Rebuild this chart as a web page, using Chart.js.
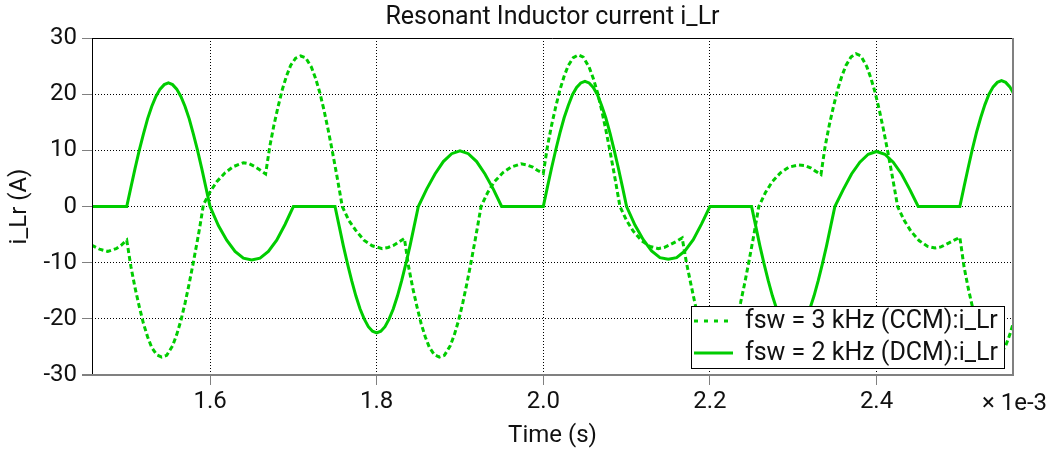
<!DOCTYPE html>
<html>

<head>
  <script src="https://cdn.jsdelivr.net/npm/chart.js@4.4.0/dist/chart.umd.min.js"></script>
  <style>
    body { margin: 0; background: #fff; }
  </style>
</head>

<body>
  <div id="chart" style="position:relative; width:1050px; height:449px"></div>
  <script>
    var chartTitle = 'Resonant Inductor current i_Lr';
    var xTitle = 'Time (s)';
    var yTitle = 'i_Lr (A)';
    var xExponent = '\u00d7 1e-3';
    var xTicks = [1.6, 1.8, 2.0, 2.2, 2.4];
    var yTicks = [-30, -20, -10, 0, 10, 20, 30];
    var xMin = 1.4583, xMax = 2.5638;

    var ccmLabel = 'fsw = 3 kHz (CCM):i_Lr';
    var dcmLabel = 'fsw = 2 kHz (DCM):i_Lr';

    // time in ms, current in A
    var ccmTime = [
      1.4500, 1.4583, 1.4673, 1.4773, 1.4873, 1.4933,
      1.5000, 1.5050, 1.5100, 1.5150, 1.5200, 1.5250, 1.5300, 1.5360, 1.5420, 1.5480, 1.5550, 1.5600, 1.5650, 1.5700,
      1.5750, 1.5800, 1.5850, 1.5880, 1.5920, 1.6000, 1.6080, 1.6180, 1.6280, 1.6400, 1.6470, 1.6540, 1.6600,
      1.6667, 1.6717, 1.6767, 1.6817, 1.6867, 1.6917, 1.6967, 1.7027, 1.7087, 1.7147, 1.7217, 1.7267, 1.7317, 1.7367,
      1.7417, 1.7467, 1.7517, 1.7547, 1.7587, 1.7667, 1.7747, 1.7847, 1.7947, 1.8067, 1.8137, 1.8207, 1.8267,
      1.8333, 1.8383, 1.8433, 1.8483, 1.8533, 1.8583, 1.8633, 1.8693, 1.8753, 1.8813, 1.8883, 1.8933, 1.8983, 1.9033,
      1.9083, 1.9133, 1.9183, 1.9213, 1.9253, 1.9333, 1.9413, 1.9513, 1.9613, 1.9733, 1.9803, 1.9873, 1.9933,
      2.0000, 2.0050, 2.0100, 2.0150, 2.0200, 2.0250, 2.0300, 2.0360, 2.0420, 2.0480, 2.0550, 2.0600, 2.0650, 2.0700,
      2.0750, 2.0800, 2.0850, 2.0880, 2.0920, 2.1000, 2.1080, 2.1180, 2.1280, 2.1380, 2.1450, 2.1520, 2.1600,
      2.1667, 2.1717, 2.1767, 2.1817, 2.1867, 2.1917, 2.1967, 2.2027, 2.2087, 2.2147, 2.2217, 2.2267, 2.2317, 2.2367,
      2.2417, 2.2467, 2.2517, 2.2547, 2.2587, 2.2667, 2.2747, 2.2847, 2.2947, 2.3067, 2.3137, 2.3207, 2.3267,
      2.3333, 2.3383, 2.3433, 2.3483, 2.3533, 2.3583, 2.3633, 2.3693, 2.3753, 2.3813, 2.3883, 2.3933, 2.3983, 2.4033,
      2.4083, 2.4133, 2.4183, 2.4213, 2.4253, 2.4333, 2.4413, 2.4513, 2.4613, 2.4703, 2.4773, 2.4853, 2.4933,
      2.5000, 2.5050, 2.5100, 2.5150, 2.5200, 2.5250, 2.5300, 2.5360, 2.5420, 2.5480, 2.5550, 2.5600, 2.5650, 2.5700
    ];
    var ccmCurrent = [
      -6.0, -6.9, -7.6, -8.0, -7.5, -6.9,
      -6.0, -10.7, -14.5, -17.8, -20.8, -23.2, -25.1, -26.4, -26.8, -26.5, -24.8, -22.8, -20.3, -17.2,
      -13.7, -9.9, -5.9, -3.4, 0.3, 2.6, 4.4, 6.0, 7.1, 7.8, 7.6, 7.1, 6.5,
      5.8, 10.7, 14.5, 17.8, 20.8, 23.2, 25.1, 26.4, 26.8, 26.5, 24.8, 22.8, 20.3, 17.2,
      13.7, 9.9, 5.9, 3.4, 0.0, -2.5, -4.2, -6.0, -7.0, -7.5, -7.3, -6.9, -6.3,
      -5.7, -10.7, -14.5, -17.8, -20.8, -23.2, -25.1, -26.4, -26.8, -26.5, -24.8, -22.8, -20.3, -17.2,
      -13.7, -9.9, -5.9, -3.4, 0.0, 2.5, 4.4, 6.0, 7.0, 7.6, 7.4, 7.0, 6.4,
      5.9, 10.7, 14.5, 17.8, 20.8, 23.2, 25.1, 26.5, 27.0, 26.6, 24.8, 22.8, 20.3, 17.2,
      13.7, 9.9, 5.9, 3.4, 0.0, -2.5, -4.4, -6.1, -7.1, -7.5, -7.3, -6.8, -6.2,
      -5.6, -9.9, -13.5, -17.0, -20.3, -23.0, -25.0, -26.4, -26.9, -26.5, -24.8, -22.8, -20.3, -17.2,
      -13.7, -9.9, -5.9, -3.4, 0.0, 2.5, 4.4, 6.0, 7.0, 7.4, 7.3, 6.9, 6.3,
      5.7, 10.7, 14.5, 17.8, 20.8, 23.2, 25.1, 26.6, 27.2, 26.8, 24.9, 22.8, 20.3, 17.2,
      13.7, 9.9, 5.9, 3.4, 0.0, -2.5, -4.4, -6.1, -7.1, -7.4, -7.2, -6.6, -6.0,
      -5.5, -10.7, -14.5, -17.8, -20.8, -23.2, -25.1, -26.4, -26.9, -26.5, -24.8, -22.8, -20.3, -17.2
    ];

    var dcmTime = [
      1.450, 1.500, 1.505, 1.510, 1.515, 1.520, 1.525, 1.530, 1.535, 1.540, 1.545,
      1.550, 1.555, 1.560, 1.565, 1.570, 1.575, 1.580, 1.585, 1.590, 1.595,
      1.600, 1.610, 1.620, 1.630, 1.640, 1.650, 1.660, 1.670, 1.680, 1.690,
      1.700, 1.750, 1.755, 1.760, 1.765, 1.770, 1.775, 1.780, 1.785, 1.790, 1.795,
      1.800, 1.805, 1.810, 1.815, 1.820, 1.825, 1.830, 1.835, 1.840, 1.845,
      1.850, 1.860, 1.870, 1.880, 1.890, 1.900, 1.910, 1.920, 1.930, 1.940,
      1.950, 2.000, 2.005, 2.010, 2.015, 2.020, 2.025, 2.030, 2.035, 2.040, 2.045,
      2.050, 2.055, 2.060, 2.065, 2.070, 2.075, 2.080, 2.085, 2.090, 2.095,
      2.100, 2.110, 2.120, 2.130, 2.140, 2.150, 2.160, 2.170, 2.180, 2.190,
      2.200, 2.250, 2.255, 2.260, 2.265, 2.270, 2.275, 2.280, 2.285, 2.290, 2.295,
      2.300, 2.305, 2.310, 2.315, 2.320, 2.325, 2.330, 2.335, 2.340, 2.345,
      2.350, 2.360, 2.370, 2.380, 2.390, 2.400, 2.410, 2.420, 2.430, 2.440,
      2.450, 2.500, 2.505, 2.510, 2.515, 2.520, 2.525, 2.530, 2.535, 2.540, 2.545,
      2.550, 2.555, 2.560, 2.565, 2.570
    ];
    var dcmCurrent = [
      0, 0, 3.4, 6.8, 10.0, 12.9, 15.6, 17.8, 19.6, 20.9, 21.7,
      22.0, 21.7, 20.9, 19.6, 17.8, 15.6, 12.9, 10.0, 6.8, 3.4,
      0, -3.4, -6.0, -8.0, -9.2, -9.5, -9.2, -8.0, -6.0, -3.2,
      0, 0, -3.5, -7.0, -10.2, -13.2, -15.9, -18.2, -20.0, -21.4, -22.2,
      -22.5, -22.2, -21.4, -20.0, -18.2, -15.9, -13.2, -10.2, -7.0, -3.5,
      0, 3.1, 5.8, 8.0, 9.4, 9.9, 9.4, 8.0, 5.8, 3.1,
      0, 0, 3.5, 6.9, 10.1, 13.1, 15.8, 18.0, 19.9, 21.2, 22.0,
      22.3, 22.0, 21.2, 19.9, 18.0, 15.8, 13.1, 10.1, 6.9, 3.5,
      0, -3.3, -5.9, -7.9, -9.1, -9.4, -9.1, -7.9, -5.9, -3.1,
      0, 0, -3.5, -7.0, -10.2, -13.2, -15.9, -18.2, -20.0, -21.4, -22.2,
      -22.5, -22.2, -21.4, -20.0, -18.2, -15.9, -13.2, -10.2, -7.0, -3.5,
      0, 3.0, 5.8, 7.9, 9.3, 9.8, 9.3, 7.9, 5.8, 3.0,
      0, 0, 3.5, 6.9, 10.2, 13.2, 15.8, 18.1, 20.0, 21.3, 22.1,
      22.4, 22.1, 21.3, 20.0, 18.1
    ];

    var green = '#00cc00';
    var textColor = '#111111';
    var fontFamily = 'Roboto';

    function toPoints(xs, ys) {
      return xs.map(function (x, i) { return { x: x, y: ys[i] }; });
    }

    // title over the plot, frame, legend box inside plot, x exponent label
    var extras = {
      id: 'extras',
      afterDraw: function (chart) {
        var ctx = chart.ctx, a = chart.chartArea;
        ctx.save();
        ctx.fillStyle = textColor;
        ctx.font = '25px ' + fontFamily;
        ctx.textAlign = 'center';
        ctx.textBaseline = 'middle';
        ctx.fillText(chartTitle, (a.left + a.right) / 2, 18);

        ctx.lineWidth = 1;
        ctx.strokeStyle = '#000';
        ctx.beginPath();
        ctx.moveTo(a.left + 0.5, a.bottom);
        ctx.lineTo(a.left + 0.5, a.top + 0.5);
        ctx.lineTo(a.right, a.top + 0.5);
        ctx.stroke();
        ctx.lineWidth = 2;
        ctx.strokeStyle = '#808080';
        ctx.beginPath();
        ctx.moveTo(a.right, a.top);
        ctx.lineTo(a.right, a.bottom);
        ctx.moveTo(a.left - 10, a.bottom);
        ctx.lineTo(a.right + 1, a.bottom);
        ctx.stroke();

        // legend
        var w = 313, h = 62;
        var x0 = a.right - 9 - w, y0 = a.bottom - 7 - h;
        ctx.fillStyle = '#fff';
        ctx.fillRect(x0, y0, w, h);
        ctx.lineWidth = 1;
        ctx.strokeStyle = '#000';
        ctx.strokeRect(x0 + 0.5, y0 + 0.5, w, h);
        ctx.font = '25px ' + fontFamily;
        ctx.textAlign = 'left';
        chart.data.datasets.forEach(function (ds, i) {
          var y = y0 + 15 + i * 32;
          ctx.strokeStyle = ds.borderColor;
          ctx.lineWidth = 3;
          ctx.setLineDash(i === 0 ? [4, 6] : []);
          ctx.beginPath();
          ctx.moveTo(x0 + 3, y);
          ctx.lineTo(x0 + 42, y);
          ctx.stroke();
          ctx.setLineDash([]);
          ctx.fillStyle = textColor;
          ctx.fillText(ds.label, x0 + 54, y + 1);
        });

        ctx.font = '24px ' + fontFamily;
        ctx.textAlign = 'right';
        ctx.fillStyle = textColor;
        ctx.fillText(xExponent, 1047, 404);
        ctx.restore();
      }
    };

    var canvas = document.createElement('canvas');
    document.getElementById('chart').appendChild(canvas);
    var ctx = canvas.getContext('2d');
    var myChart = new Chart(ctx, {
      type: 'line',
      data: {
        datasets: [
          {
            label: ccmLabel,
            data: toPoints(ccmTime, ccmCurrent),
            borderColor: green,
            borderWidth: 3,
            borderDash: [5, 3],
            pointRadius: 0,
            fill: false
          },
          {
            label: dcmLabel,
            data: toPoints(dcmTime, dcmCurrent),
            borderColor: green,
            borderWidth: 3,
            pointRadius: 0,
            fill: false
          }
        ]
      },
      options: {
        responsive: true,
        maintainAspectRatio: false,
        animation: false,
        layout: { padding: { left: 0, right: 37, top: 38, bottom: 0 } },
        plugins: {
          legend: { display: false },
          tooltip: { enabled: false },
          title: { display: false }
        },
        scales: {
          x: {
            type: 'linear',
            min: xMin,
            max: xMax,
            afterFit: function (scale) { scale.height = 74; },
            afterBuildTicks: function (scale) {
              scale.ticks = xTicks.map(function (v) { return { value: v }; });
            },
            ticks: {
              color: textColor,
              font: { family: fontFamily, size: 24 },
              padding: 3,
              maxRotation: 0,
              callback: function (v) { return v.toFixed(1); }
            },
            grid: { color: '#000', lineWidth: 1, tickColor: '#808080', tickLength: 10, tickWidth: 1 },
            border: { display: false, dash: [1, 2] },
            title: {
              display: true,
              text: xTitle,
              color: textColor,
              font: { family: fontFamily, size: 24, lineHeight: 1 },
              padding: { top: 0, bottom: 1 }
            }
          },
          y: {
            min: -30,
            max: 30,
            afterFit: function (scale) { scale.width = 92; },
            afterBuildTicks: function (scale) {
              scale.ticks = yTicks.map(function (v) { return { value: v }; });
            },
            ticks: {
              color: textColor,
              font: { family: fontFamily, size: 24 },
              padding: 5
            },
            grid: { color: '#000', lineWidth: 1, tickColor: '#808080', tickLength: 10, tickWidth: 1 },
            border: { display: false, dash: [1, 2] },
            title: {
              display: true,
              text: yTitle,
              color: textColor,
              font: { family: fontFamily, size: 24, lineHeight: 1 },
              padding: { top: 8, bottom: 0 }
            }
          }
        }
      },
      plugins: [extras]
    });
  </script>
</body>

</html>
